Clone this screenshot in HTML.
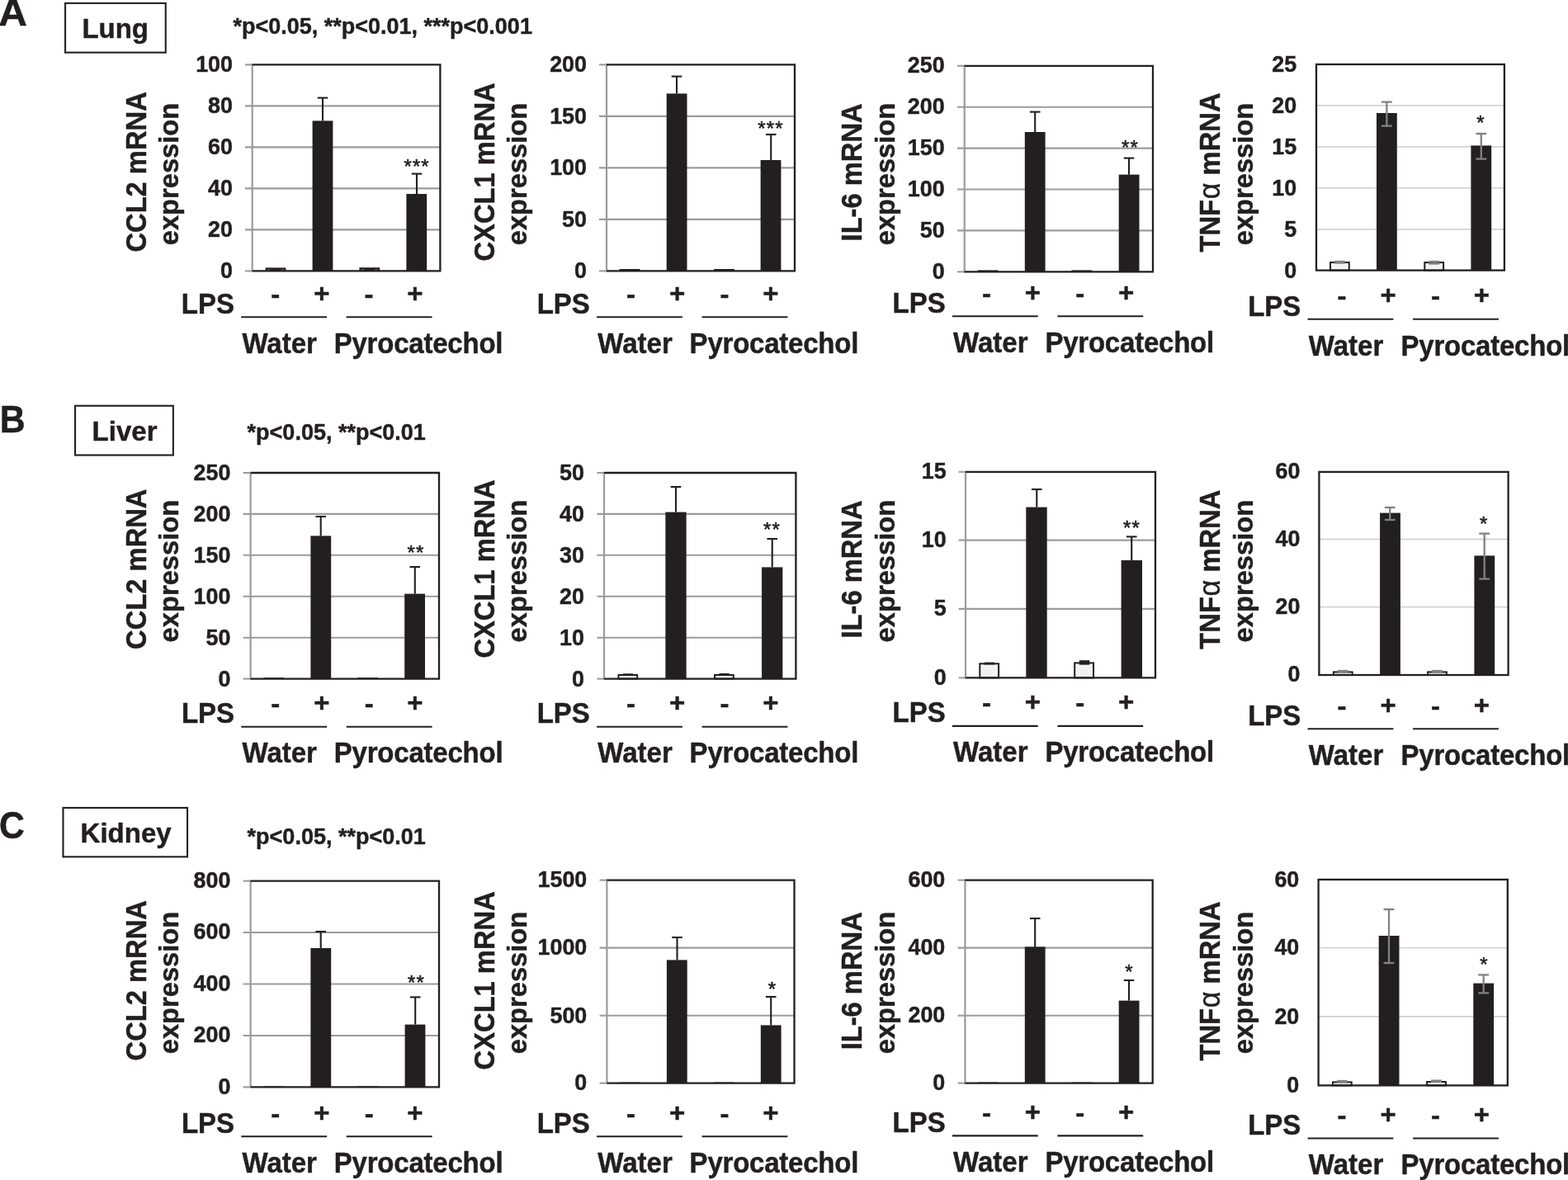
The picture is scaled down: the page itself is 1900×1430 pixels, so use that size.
<!DOCTYPE html>
<html lang="en">
<head>
<meta charset="utf-8">
<title>Pyrocatechol and LPS-induced cytokine mRNA expression in lung, liver and kidney</title>
<style>
html, body { margin: 0; padding: 0; background: #ffffff; }
body { width: 1900px; height: 1430px; overflow: hidden; }
svg { display: block; font-family: "Liberation Sans", sans-serif; fill: #231f20; }
</style>
</head>
<body>
<svg width="1900" height="1430" viewBox="0 0 1900 1430">
<rect x="0" y="0" width="1900" height="1430" fill="#ffffff"/>
<line x1="297.00" y1="128.40" x2="533.40" y2="128.40" stroke="#999b9e" stroke-width="2.1"/>
<line x1="297.00" y1="178.40" x2="533.40" y2="178.40" stroke="#999b9e" stroke-width="2.1"/>
<line x1="297.00" y1="228.40" x2="533.40" y2="228.40" stroke="#999b9e" stroke-width="2.1"/>
<line x1="297.00" y1="278.40" x2="533.40" y2="278.40" stroke="#999b9e" stroke-width="2.1"/>
<line x1="297.00" y1="78.40" x2="305.70" y2="78.40" stroke="#999b9e" stroke-width="2.1"/>
<line x1="297.00" y1="328.40" x2="305.70" y2="328.40" stroke="#999b9e" stroke-width="2.1"/>
<line x1="305.70" y1="77.35" x2="305.70" y2="329.45" stroke="#999b9e" stroke-width="2.2"/>
<rect x="321.60" y="324.40" width="24.80" height="4.00" fill="#231f20"/>
<rect x="323.80" y="326.40" width="3.80" height="1.40" fill="#6d6e71"/>
<rect x="340.40" y="326.40" width="3.80" height="1.40" fill="#6d6e71"/>
<rect x="378.60" y="146.40" width="24.80" height="182.00" fill="#231f20"/>
<rect x="435.40" y="324.20" width="24.80" height="4.20" fill="#231f20"/>
<rect x="437.60" y="326.20" width="3.80" height="1.40" fill="#6d6e71"/>
<rect x="454.20" y="326.20" width="3.80" height="1.40" fill="#6d6e71"/>
<rect x="492.40" y="235.00" width="24.80" height="93.40" fill="#231f20"/>
<line x1="391.00" y1="118.60" x2="391.00" y2="146.40" stroke="#231f20" stroke-width="2.1"/>
<line x1="384.70" y1="118.60" x2="397.30" y2="118.60" stroke="#231f20" stroke-width="2.1"/>
<line x1="505.00" y1="210.60" x2="505.00" y2="235.00" stroke="#231f20" stroke-width="2.1"/>
<line x1="498.70" y1="210.60" x2="511.30" y2="210.60" stroke="#231f20" stroke-width="2.1"/>
<polyline points="305.70,78.40 533.40,78.40 533.40,328.40 305.70,328.40" fill="none" stroke="#231f20" stroke-width="2.3"/>
<text transform="translate(282.00 87.40) scale(1.0 1.03)" font-size="26.9" font-weight="bold" text-anchor="end" stroke="#231f20" stroke-width="0.45" stroke-linejoin="round">100</text>
<text transform="translate(282.00 137.40) scale(1.0 1.03)" font-size="26.9" font-weight="bold" text-anchor="end" stroke="#231f20" stroke-width="0.45" stroke-linejoin="round">80</text>
<text transform="translate(282.00 187.40) scale(1.0 1.03)" font-size="26.9" font-weight="bold" text-anchor="end" stroke="#231f20" stroke-width="0.45" stroke-linejoin="round">60</text>
<text transform="translate(282.00 237.40) scale(1.0 1.03)" font-size="26.9" font-weight="bold" text-anchor="end" stroke="#231f20" stroke-width="0.45" stroke-linejoin="round">40</text>
<text transform="translate(282.00 287.40) scale(1.0 1.03)" font-size="26.9" font-weight="bold" text-anchor="end" stroke="#231f20" stroke-width="0.45" stroke-linejoin="round">20</text>
<text transform="translate(282.00 337.40) scale(1.0 1.03)" font-size="26.9" font-weight="bold" text-anchor="end" stroke="#231f20" stroke-width="0.45" stroke-linejoin="round">0</text>
<text transform="translate(505.15 209.50) scale(1.0 0.97)" font-size="24" font-weight="normal" text-anchor="middle" letter-spacing="1.1" stroke="#231f20" stroke-width="0.6">***</text>
<text transform="translate(177.00 208.40) rotate(-90) scale(1.0 1.06)" font-size="32.7" font-weight="bold" text-anchor="middle" stroke="#231f20" stroke-width="0.45" stroke-linejoin="round">CCL2 mRNA</text>
<text transform="translate(215.50 211.00) rotate(-90)" font-size="32.7" font-weight="bold" text-anchor="middle" stroke="#231f20" stroke-width="0.45" stroke-linejoin="round">expression</text>
<text transform="translate(219.80 379.60) scale(1.0 1.05)" font-size="33" font-weight="bold" text-anchor="start" stroke="#231f20" stroke-width="0.45" stroke-linejoin="round">LPS</text>
<text transform="translate(333.70 366.80) scale(1.0 0.97)" font-size="33" font-weight="bold" text-anchor="middle" stroke="#231f20" stroke-width="0.45" stroke-linejoin="round">-</text>
<text transform="translate(389.80 365.80) scale(1.0 0.97)" font-size="33" font-weight="bold" text-anchor="middle" stroke="#231f20" stroke-width="0.45" stroke-linejoin="round">+</text>
<text transform="translate(447.10 366.80) scale(1.0 0.97)" font-size="33" font-weight="bold" text-anchor="middle" stroke="#231f20" stroke-width="0.45" stroke-linejoin="round">-</text>
<text transform="translate(502.90 365.80) scale(1.0 0.97)" font-size="33" font-weight="bold" text-anchor="middle" stroke="#231f20" stroke-width="0.45" stroke-linejoin="round">+</text>
<line x1="292.20" y1="384.30" x2="396.00" y2="384.30" stroke="#231f20" stroke-width="2.1"/>
<line x1="419.70" y1="384.30" x2="523.50" y2="384.30" stroke="#231f20" stroke-width="2.1"/>
<text transform="translate(293.40 427.60) scale(1.0 1.05)" font-size="33" font-weight="bold" text-anchor="start" stroke="#231f20" stroke-width="0.45" stroke-linejoin="round">Water</text>
<text transform="translate(404.70 427.60) scale(1.0 1.05)" font-size="33" font-weight="bold" text-anchor="start" stroke="#231f20" stroke-width="0.45" stroke-linejoin="round" letter-spacing="-0.22">Pyrocatechol</text>
<line x1="726.00" y1="140.90" x2="963.00" y2="140.90" stroke="#999b9e" stroke-width="2.1"/>
<line x1="726.00" y1="203.40" x2="963.00" y2="203.40" stroke="#999b9e" stroke-width="2.1"/>
<line x1="726.00" y1="265.90" x2="963.00" y2="265.90" stroke="#999b9e" stroke-width="2.1"/>
<line x1="726.00" y1="78.40" x2="735.00" y2="78.40" stroke="#999b9e" stroke-width="2.1"/>
<line x1="726.00" y1="328.40" x2="735.00" y2="328.40" stroke="#999b9e" stroke-width="2.1"/>
<line x1="735.00" y1="77.35" x2="735.00" y2="329.45" stroke="#999b9e" stroke-width="2.2"/>
<rect x="750.60" y="326.00" width="24.80" height="2.40" fill="#231f20"/>
<rect x="807.70" y="113.40" width="24.80" height="215.00" fill="#231f20"/>
<rect x="865.10" y="326.00" width="24.80" height="2.40" fill="#231f20"/>
<rect x="921.60" y="194.00" width="24.80" height="134.40" fill="#231f20"/>
<line x1="820.00" y1="92.60" x2="820.00" y2="113.40" stroke="#231f20" stroke-width="2.1"/>
<line x1="813.70" y1="92.60" x2="826.30" y2="92.60" stroke="#231f20" stroke-width="2.1"/>
<line x1="934.20" y1="163.00" x2="934.20" y2="194.00" stroke="#231f20" stroke-width="2.1"/>
<line x1="927.90" y1="163.00" x2="940.50" y2="163.00" stroke="#231f20" stroke-width="2.1"/>
<polyline points="735.00,78.40 963.00,78.40 963.00,328.40 735.00,328.40" fill="none" stroke="#231f20" stroke-width="2.3"/>
<text transform="translate(711.00 87.40) scale(1.0 1.03)" font-size="26.9" font-weight="bold" text-anchor="end" stroke="#231f20" stroke-width="0.45" stroke-linejoin="round">200</text>
<text transform="translate(711.00 149.90) scale(1.0 1.03)" font-size="26.9" font-weight="bold" text-anchor="end" stroke="#231f20" stroke-width="0.45" stroke-linejoin="round">150</text>
<text transform="translate(711.00 212.40) scale(1.0 1.03)" font-size="26.9" font-weight="bold" text-anchor="end" stroke="#231f20" stroke-width="0.45" stroke-linejoin="round">100</text>
<text transform="translate(711.00 274.90) scale(1.0 1.03)" font-size="26.9" font-weight="bold" text-anchor="end" stroke="#231f20" stroke-width="0.45" stroke-linejoin="round">50</text>
<text transform="translate(711.00 337.40) scale(1.0 1.03)" font-size="26.9" font-weight="bold" text-anchor="end" stroke="#231f20" stroke-width="0.45" stroke-linejoin="round">0</text>
<text transform="translate(933.95 163.50) scale(1.0 0.97)" font-size="24" font-weight="normal" text-anchor="middle" letter-spacing="1.1" stroke="#231f20" stroke-width="0.6">***</text>
<text transform="translate(599.00 208.40) rotate(-90) scale(1.0 1.06)" font-size="32.7" font-weight="bold" text-anchor="middle" stroke="#231f20" stroke-width="0.45" stroke-linejoin="round">CXCL1 mRNA</text>
<text transform="translate(638.00 211.00) rotate(-90)" font-size="32.7" font-weight="bold" text-anchor="middle" stroke="#231f20" stroke-width="0.45" stroke-linejoin="round">expression</text>
<text transform="translate(650.70 379.50) scale(1.0 1.05)" font-size="33" font-weight="bold" text-anchor="start" stroke="#231f20" stroke-width="0.45" stroke-linejoin="round">LPS</text>
<text transform="translate(764.60 366.70) scale(1.0 0.97)" font-size="33" font-weight="bold" text-anchor="middle" stroke="#231f20" stroke-width="0.45" stroke-linejoin="round">-</text>
<text transform="translate(820.70 365.70) scale(1.0 0.97)" font-size="33" font-weight="bold" text-anchor="middle" stroke="#231f20" stroke-width="0.45" stroke-linejoin="round">+</text>
<text transform="translate(878.00 366.70) scale(1.0 0.97)" font-size="33" font-weight="bold" text-anchor="middle" stroke="#231f20" stroke-width="0.45" stroke-linejoin="round">-</text>
<text transform="translate(933.80 365.70) scale(1.0 0.97)" font-size="33" font-weight="bold" text-anchor="middle" stroke="#231f20" stroke-width="0.45" stroke-linejoin="round">+</text>
<line x1="723.10" y1="384.20" x2="826.90" y2="384.20" stroke="#231f20" stroke-width="2.1"/>
<line x1="850.60" y1="384.20" x2="954.40" y2="384.20" stroke="#231f20" stroke-width="2.1"/>
<text transform="translate(724.30 427.50) scale(1.0 1.05)" font-size="33" font-weight="bold" text-anchor="start" stroke="#231f20" stroke-width="0.45" stroke-linejoin="round">Water</text>
<text transform="translate(835.60 427.50) scale(1.0 1.05)" font-size="33" font-weight="bold" text-anchor="start" stroke="#231f20" stroke-width="0.45" stroke-linejoin="round" letter-spacing="-0.22">Pyrocatechol</text>
<line x1="1160.00" y1="129.70" x2="1397.00" y2="129.70" stroke="#999b9e" stroke-width="2.1"/>
<line x1="1160.00" y1="179.60" x2="1397.00" y2="179.60" stroke="#999b9e" stroke-width="2.1"/>
<line x1="1160.00" y1="229.50" x2="1397.00" y2="229.50" stroke="#999b9e" stroke-width="2.1"/>
<line x1="1160.00" y1="279.40" x2="1397.00" y2="279.40" stroke="#999b9e" stroke-width="2.1"/>
<line x1="1160.00" y1="79.80" x2="1168.70" y2="79.80" stroke="#999b9e" stroke-width="2.1"/>
<line x1="1160.00" y1="329.40" x2="1168.70" y2="329.40" stroke="#999b9e" stroke-width="2.1"/>
<line x1="1168.70" y1="78.75" x2="1168.70" y2="330.45" stroke="#999b9e" stroke-width="2.2"/>
<rect x="1184.60" y="327.40" width="24.80" height="2.00" fill="#231f20"/>
<rect x="1241.80" y="160.00" width="24.80" height="169.40" fill="#231f20"/>
<rect x="1298.40" y="327.40" width="24.80" height="2.00" fill="#231f20"/>
<rect x="1355.70" y="211.60" width="24.80" height="117.80" fill="#231f20"/>
<line x1="1254.20" y1="135.60" x2="1254.20" y2="160.00" stroke="#231f20" stroke-width="2.1"/>
<line x1="1247.90" y1="135.60" x2="1260.50" y2="135.60" stroke="#231f20" stroke-width="2.1"/>
<line x1="1368.00" y1="191.60" x2="1368.00" y2="211.60" stroke="#231f20" stroke-width="2.1"/>
<line x1="1361.70" y1="191.60" x2="1374.30" y2="191.60" stroke="#231f20" stroke-width="2.1"/>
<polyline points="1168.70,79.80 1397.00,79.80 1397.00,329.40 1168.70,329.40" fill="none" stroke="#231f20" stroke-width="2.3"/>
<text transform="translate(1144.60 88.00) scale(1.0 1.03)" font-size="26.9" font-weight="bold" text-anchor="end" stroke="#231f20" stroke-width="0.45" stroke-linejoin="round">250</text>
<text transform="translate(1144.60 137.90) scale(1.0 1.03)" font-size="26.9" font-weight="bold" text-anchor="end" stroke="#231f20" stroke-width="0.45" stroke-linejoin="round">200</text>
<text transform="translate(1144.60 187.80) scale(1.0 1.03)" font-size="26.9" font-weight="bold" text-anchor="end" stroke="#231f20" stroke-width="0.45" stroke-linejoin="round">150</text>
<text transform="translate(1144.60 237.70) scale(1.0 1.03)" font-size="26.9" font-weight="bold" text-anchor="end" stroke="#231f20" stroke-width="0.45" stroke-linejoin="round">100</text>
<text transform="translate(1144.60 287.60) scale(1.0 1.03)" font-size="26.9" font-weight="bold" text-anchor="end" stroke="#231f20" stroke-width="0.45" stroke-linejoin="round">50</text>
<text transform="translate(1144.60 337.60) scale(1.0 1.03)" font-size="26.9" font-weight="bold" text-anchor="end" stroke="#231f20" stroke-width="0.45" stroke-linejoin="round">0</text>
<text transform="translate(1369.55 186.50) scale(1.0 0.97)" font-size="24" font-weight="normal" text-anchor="middle" letter-spacing="1.1" stroke="#231f20" stroke-width="0.6">**</text>
<text transform="translate(1043.70 208.90) rotate(-90) scale(1.0 1.06)" font-size="32.7" font-weight="bold" text-anchor="middle" stroke="#231f20" stroke-width="0.45" stroke-linejoin="round">IL-6 mRNA</text>
<text transform="translate(1084.00 211.00) rotate(-90)" font-size="32.7" font-weight="bold" text-anchor="middle" stroke="#231f20" stroke-width="0.45" stroke-linejoin="round">expression</text>
<text transform="translate(1081.50 378.60) scale(1.0 1.05)" font-size="33" font-weight="bold" text-anchor="start" stroke="#231f20" stroke-width="0.45" stroke-linejoin="round">LPS</text>
<text transform="translate(1195.40 365.80) scale(1.0 0.97)" font-size="33" font-weight="bold" text-anchor="middle" stroke="#231f20" stroke-width="0.45" stroke-linejoin="round">-</text>
<text transform="translate(1251.50 364.80) scale(1.0 0.97)" font-size="33" font-weight="bold" text-anchor="middle" stroke="#231f20" stroke-width="0.45" stroke-linejoin="round">+</text>
<text transform="translate(1308.80 365.80) scale(1.0 0.97)" font-size="33" font-weight="bold" text-anchor="middle" stroke="#231f20" stroke-width="0.45" stroke-linejoin="round">-</text>
<text transform="translate(1364.60 364.80) scale(1.0 0.97)" font-size="33" font-weight="bold" text-anchor="middle" stroke="#231f20" stroke-width="0.45" stroke-linejoin="round">+</text>
<line x1="1153.90" y1="383.30" x2="1257.70" y2="383.30" stroke="#231f20" stroke-width="2.1"/>
<line x1="1281.40" y1="383.30" x2="1385.20" y2="383.30" stroke="#231f20" stroke-width="2.1"/>
<text transform="translate(1155.10 426.60) scale(1.0 1.05)" font-size="33" font-weight="bold" text-anchor="start" stroke="#231f20" stroke-width="0.45" stroke-linejoin="round">Water</text>
<text transform="translate(1266.40 426.60) scale(1.0 1.05)" font-size="33" font-weight="bold" text-anchor="start" stroke="#231f20" stroke-width="0.45" stroke-linejoin="round" letter-spacing="-0.22">Pyrocatechol</text>
<line x1="1595.00" y1="127.80" x2="1822.90" y2="127.80" stroke="#d4d5d6" stroke-width="1.8"/>
<line x1="1595.00" y1="177.80" x2="1822.90" y2="177.80" stroke="#d4d5d6" stroke-width="1.8"/>
<line x1="1595.00" y1="227.80" x2="1822.90" y2="227.80" stroke="#d4d5d6" stroke-width="1.8"/>
<line x1="1595.00" y1="277.80" x2="1822.90" y2="277.80" stroke="#d4d5d6" stroke-width="1.8"/>
<rect x="1612.00" y="318.00" width="22.80" height="9.60" fill="#f2f2f2" stroke="#231f20" stroke-width="2.0"/>
<rect x="1668.00" y="137.00" width="24.80" height="190.60" fill="#231f20"/>
<rect x="1726.30" y="318.10" width="22.80" height="9.50" fill="#f2f2f2" stroke="#231f20" stroke-width="2.0"/>
<rect x="1782.40" y="176.40" width="24.80" height="151.20" fill="#231f20"/>
<line x1="1680.40" y1="123.60" x2="1680.40" y2="152.60" stroke="#808285" stroke-width="2.3"/>
<line x1="1674.00" y1="123.60" x2="1686.80" y2="123.60" stroke="#808285" stroke-width="2.3"/>
<line x1="1674.00" y1="152.60" x2="1686.80" y2="152.60" stroke="#808285" stroke-width="2.3"/>
<line x1="1794.80" y1="162.00" x2="1794.80" y2="192.60" stroke="#808285" stroke-width="2.3"/>
<line x1="1788.40" y1="162.00" x2="1801.20" y2="162.00" stroke="#808285" stroke-width="2.3"/>
<line x1="1788.40" y1="192.60" x2="1801.20" y2="192.60" stroke="#808285" stroke-width="2.3"/>
<line x1="1623.20" y1="317.00" x2="1623.20" y2="318.60" stroke="#808285" stroke-width="2.3"/>
<line x1="1616.80" y1="317.00" x2="1629.60" y2="317.00" stroke="#808285" stroke-width="2.3"/>
<line x1="1616.80" y1="318.60" x2="1629.60" y2="318.60" stroke="#808285" stroke-width="2.3"/>
<line x1="1737.70" y1="317.00" x2="1737.70" y2="319.50" stroke="#808285" stroke-width="2.3"/>
<line x1="1731.30" y1="317.00" x2="1744.10" y2="317.00" stroke="#808285" stroke-width="2.3"/>
<line x1="1731.30" y1="319.50" x2="1744.10" y2="319.50" stroke="#808285" stroke-width="2.3"/>
<rect x="1595.00" y="78.00" width="227.90" height="249.60" fill="none" stroke="#231f20" stroke-width="2.3"/>
<text transform="translate(1571.20 87.00) scale(1.0 1.03)" font-size="26.9" font-weight="bold" text-anchor="end" stroke="#231f20" stroke-width="0.45" stroke-linejoin="round">25</text>
<text transform="translate(1571.20 136.80) scale(1.0 1.03)" font-size="26.9" font-weight="bold" text-anchor="end" stroke="#231f20" stroke-width="0.45" stroke-linejoin="round">20</text>
<text transform="translate(1571.20 186.80) scale(1.0 1.03)" font-size="26.9" font-weight="bold" text-anchor="end" stroke="#231f20" stroke-width="0.45" stroke-linejoin="round">15</text>
<text transform="translate(1571.20 236.80) scale(1.0 1.03)" font-size="26.9" font-weight="bold" text-anchor="end" stroke="#231f20" stroke-width="0.45" stroke-linejoin="round">10</text>
<text transform="translate(1571.20 286.80) scale(1.0 1.03)" font-size="26.9" font-weight="bold" text-anchor="end" stroke="#231f20" stroke-width="0.45" stroke-linejoin="round">5</text>
<text transform="translate(1571.20 336.60) scale(1.0 1.03)" font-size="26.9" font-weight="bold" text-anchor="end" stroke="#231f20" stroke-width="0.45" stroke-linejoin="round">0</text>
<text transform="translate(1794.55 157.10) scale(1.0 0.97)" font-size="24" font-weight="normal" text-anchor="middle" letter-spacing="1.1" stroke="#231f20" stroke-width="0.6">*</text>
<text transform="translate(1477.80 209.00) rotate(-90) scale(1.0 1.06)" font-size="32.7" font-weight="bold" text-anchor="middle" stroke="#231f20" stroke-width="0.45" stroke-linejoin="round">TNF<tspan font-weight="normal" stroke-width="0.4" font-size="1.05em" dx="0.6">α</tspan> mRNA</text>
<text transform="translate(1518.00 211.00) rotate(-90)" font-size="32.7" font-weight="bold" text-anchor="middle" stroke="#231f20" stroke-width="0.45" stroke-linejoin="round">expression</text>
<text transform="translate(1512.20 382.60) scale(1.0 1.05)" font-size="33" font-weight="bold" text-anchor="start" stroke="#231f20" stroke-width="0.45" stroke-linejoin="round">LPS</text>
<text transform="translate(1626.10 369.20) scale(1.0 0.97)" font-size="33" font-weight="bold" text-anchor="middle" stroke="#231f20" stroke-width="0.45" stroke-linejoin="round">-</text>
<text transform="translate(1682.20 368.20) scale(1.0 0.97)" font-size="33" font-weight="bold" text-anchor="middle" stroke="#231f20" stroke-width="0.45" stroke-linejoin="round">+</text>
<text transform="translate(1739.50 369.20) scale(1.0 0.97)" font-size="33" font-weight="bold" text-anchor="middle" stroke="#231f20" stroke-width="0.45" stroke-linejoin="round">-</text>
<text transform="translate(1795.30 368.20) scale(1.0 0.97)" font-size="33" font-weight="bold" text-anchor="middle" stroke="#231f20" stroke-width="0.45" stroke-linejoin="round">+</text>
<line x1="1584.60" y1="386.80" x2="1688.40" y2="386.80" stroke="#231f20" stroke-width="2.1"/>
<line x1="1712.10" y1="386.80" x2="1815.90" y2="386.80" stroke="#231f20" stroke-width="2.1"/>
<text transform="translate(1585.80 430.60) scale(1.0 1.05)" font-size="33" font-weight="bold" text-anchor="start" stroke="#231f20" stroke-width="0.45" stroke-linejoin="round">Water</text>
<text transform="translate(1697.50 430.60) scale(1.0 1.05)" font-size="33" font-weight="bold" text-anchor="start" stroke="#231f20" stroke-width="0.45" stroke-linejoin="round" letter-spacing="-0.22">Pyrocatechol</text>
<line x1="294.60" y1="622.90" x2="532.00" y2="622.90" stroke="#999b9e" stroke-width="2.1"/>
<line x1="294.60" y1="672.80" x2="532.00" y2="672.80" stroke="#999b9e" stroke-width="2.1"/>
<line x1="294.60" y1="722.80" x2="532.00" y2="722.80" stroke="#999b9e" stroke-width="2.1"/>
<line x1="294.60" y1="772.70" x2="532.00" y2="772.70" stroke="#999b9e" stroke-width="2.1"/>
<line x1="294.60" y1="573.00" x2="303.60" y2="573.00" stroke="#999b9e" stroke-width="2.1"/>
<line x1="294.60" y1="822.60" x2="303.60" y2="822.60" stroke="#999b9e" stroke-width="2.1"/>
<line x1="303.60" y1="571.95" x2="303.60" y2="823.65" stroke="#999b9e" stroke-width="2.2"/>
<rect x="319.40" y="821.20" width="24.80" height="1.40" fill="#231f20"/>
<rect x="376.40" y="649.40" width="24.80" height="173.20" fill="#231f20"/>
<rect x="433.30" y="821.20" width="24.80" height="1.40" fill="#231f20"/>
<rect x="490.20" y="719.60" width="24.80" height="103.00" fill="#231f20"/>
<line x1="388.70" y1="626.00" x2="388.70" y2="649.40" stroke="#231f20" stroke-width="2.1"/>
<line x1="382.40" y1="626.00" x2="395.00" y2="626.00" stroke="#231f20" stroke-width="2.1"/>
<line x1="502.80" y1="687.00" x2="502.80" y2="719.60" stroke="#231f20" stroke-width="2.1"/>
<line x1="496.50" y1="687.00" x2="509.10" y2="687.00" stroke="#231f20" stroke-width="2.1"/>
<polyline points="303.60,573.00 532.00,573.00 532.00,822.60 303.60,822.60" fill="none" stroke="#231f20" stroke-width="2.3"/>
<text transform="translate(279.40 582.00) scale(1.0 1.03)" font-size="26.9" font-weight="bold" text-anchor="end" stroke="#231f20" stroke-width="0.45" stroke-linejoin="round">250</text>
<text transform="translate(279.40 631.90) scale(1.0 1.03)" font-size="26.9" font-weight="bold" text-anchor="end" stroke="#231f20" stroke-width="0.45" stroke-linejoin="round">200</text>
<text transform="translate(279.40 681.80) scale(1.0 1.03)" font-size="26.9" font-weight="bold" text-anchor="end" stroke="#231f20" stroke-width="0.45" stroke-linejoin="round">150</text>
<text transform="translate(279.40 731.80) scale(1.0 1.03)" font-size="26.9" font-weight="bold" text-anchor="end" stroke="#231f20" stroke-width="0.45" stroke-linejoin="round">100</text>
<text transform="translate(279.40 781.70) scale(1.0 1.03)" font-size="26.9" font-weight="bold" text-anchor="end" stroke="#231f20" stroke-width="0.45" stroke-linejoin="round">50</text>
<text transform="translate(279.40 831.60) scale(1.0 1.03)" font-size="26.9" font-weight="bold" text-anchor="end" stroke="#231f20" stroke-width="0.45" stroke-linejoin="round">0</text>
<text transform="translate(503.95 677.90) scale(1.0 0.97)" font-size="24" font-weight="normal" text-anchor="middle" letter-spacing="1.1" stroke="#231f20" stroke-width="0.6">**</text>
<text transform="translate(176.90 689.70) rotate(-90) scale(1.0 1.06)" font-size="32.7" font-weight="bold" text-anchor="middle" stroke="#231f20" stroke-width="0.45" stroke-linejoin="round">CCL2 mRNA</text>
<text transform="translate(216.40 692.10) rotate(-90)" font-size="32.7" font-weight="bold" text-anchor="middle" stroke="#231f20" stroke-width="0.45" stroke-linejoin="round">expression</text>
<text transform="translate(219.90 876.10) scale(1.0 1.05)" font-size="33" font-weight="bold" text-anchor="start" stroke="#231f20" stroke-width="0.45" stroke-linejoin="round">LPS</text>
<text transform="translate(333.80 863.30) scale(1.0 0.97)" font-size="33" font-weight="bold" text-anchor="middle" stroke="#231f20" stroke-width="0.45" stroke-linejoin="round">-</text>
<text transform="translate(389.90 862.30) scale(1.0 0.97)" font-size="33" font-weight="bold" text-anchor="middle" stroke="#231f20" stroke-width="0.45" stroke-linejoin="round">+</text>
<text transform="translate(447.20 863.30) scale(1.0 0.97)" font-size="33" font-weight="bold" text-anchor="middle" stroke="#231f20" stroke-width="0.45" stroke-linejoin="round">-</text>
<text transform="translate(503.00 862.30) scale(1.0 0.97)" font-size="33" font-weight="bold" text-anchor="middle" stroke="#231f20" stroke-width="0.45" stroke-linejoin="round">+</text>
<line x1="292.30" y1="880.80" x2="396.10" y2="880.80" stroke="#231f20" stroke-width="2.1"/>
<line x1="419.80" y1="880.80" x2="523.60" y2="880.80" stroke="#231f20" stroke-width="2.1"/>
<text transform="translate(293.50 924.10) scale(1.0 1.05)" font-size="33" font-weight="bold" text-anchor="start" stroke="#231f20" stroke-width="0.45" stroke-linejoin="round">Water</text>
<text transform="translate(404.80 924.10) scale(1.0 1.05)" font-size="33" font-weight="bold" text-anchor="start" stroke="#231f20" stroke-width="0.45" stroke-linejoin="round" letter-spacing="-0.22">Pyrocatechol</text>
<line x1="723.40" y1="622.90" x2="964.40" y2="622.90" stroke="#999b9e" stroke-width="2.1"/>
<line x1="723.40" y1="672.80" x2="964.40" y2="672.80" stroke="#999b9e" stroke-width="2.1"/>
<line x1="723.40" y1="722.80" x2="964.40" y2="722.80" stroke="#999b9e" stroke-width="2.1"/>
<line x1="723.40" y1="772.70" x2="964.40" y2="772.70" stroke="#999b9e" stroke-width="2.1"/>
<line x1="723.40" y1="573.00" x2="732.00" y2="573.00" stroke="#999b9e" stroke-width="2.1"/>
<line x1="723.40" y1="822.60" x2="732.00" y2="822.60" stroke="#999b9e" stroke-width="2.1"/>
<line x1="732.00" y1="571.95" x2="732.00" y2="823.65" stroke="#999b9e" stroke-width="2.2"/>
<rect x="749.45" y="818.00" width="22.70" height="4.60" fill="#f2f2f2" stroke="#231f20" stroke-width="2.0"/>
<rect x="806.35" y="620.60" width="25.30" height="202.00" fill="#231f20"/>
<rect x="866.05" y="818.00" width="22.70" height="4.60" fill="#f2f2f2" stroke="#231f20" stroke-width="2.0"/>
<rect x="923.05" y="687.40" width="25.30" height="135.20" fill="#231f20"/>
<line x1="819.00" y1="590.00" x2="819.00" y2="620.60" stroke="#231f20" stroke-width="2.1"/>
<line x1="812.70" y1="590.00" x2="825.30" y2="590.00" stroke="#231f20" stroke-width="2.1"/>
<line x1="935.70" y1="653.00" x2="935.70" y2="687.40" stroke="#231f20" stroke-width="2.1"/>
<line x1="929.40" y1="653.00" x2="942.00" y2="653.00" stroke="#231f20" stroke-width="2.1"/>
<rect x="754.80" y="816.30" width="12.40" height="1.90" fill="#231f20"/>
<rect x="871.40" y="816.00" width="12.40" height="3.00" fill="#231f20"/>
<polyline points="732.00,573.00 964.40,573.00 964.40,822.60 732.00,822.60" fill="none" stroke="#231f20" stroke-width="2.3"/>
<text transform="translate(708.00 582.00) scale(1.0 1.03)" font-size="26.9" font-weight="bold" text-anchor="end" stroke="#231f20" stroke-width="0.45" stroke-linejoin="round">50</text>
<text transform="translate(708.00 631.90) scale(1.0 1.03)" font-size="26.9" font-weight="bold" text-anchor="end" stroke="#231f20" stroke-width="0.45" stroke-linejoin="round">40</text>
<text transform="translate(708.00 681.80) scale(1.0 1.03)" font-size="26.9" font-weight="bold" text-anchor="end" stroke="#231f20" stroke-width="0.45" stroke-linejoin="round">30</text>
<text transform="translate(708.00 731.80) scale(1.0 1.03)" font-size="26.9" font-weight="bold" text-anchor="end" stroke="#231f20" stroke-width="0.45" stroke-linejoin="round">20</text>
<text transform="translate(708.00 781.70) scale(1.0 1.03)" font-size="26.9" font-weight="bold" text-anchor="end" stroke="#231f20" stroke-width="0.45" stroke-linejoin="round">10</text>
<text transform="translate(708.00 831.60) scale(1.0 1.03)" font-size="26.9" font-weight="bold" text-anchor="end" stroke="#231f20" stroke-width="0.45" stroke-linejoin="round">0</text>
<text transform="translate(935.55 649.50) scale(1.0 0.97)" font-size="24" font-weight="normal" text-anchor="middle" letter-spacing="1.1" stroke="#231f20" stroke-width="0.6">**</text>
<text transform="translate(598.70 689.50) rotate(-90) scale(1.0 1.06)" font-size="32.7" font-weight="bold" text-anchor="middle" stroke="#231f20" stroke-width="0.45" stroke-linejoin="round">CXCL1 mRNA</text>
<text transform="translate(638.20 692.10) rotate(-90)" font-size="32.7" font-weight="bold" text-anchor="middle" stroke="#231f20" stroke-width="0.45" stroke-linejoin="round">expression</text>
<text transform="translate(650.70 876.10) scale(1.0 1.05)" font-size="33" font-weight="bold" text-anchor="start" stroke="#231f20" stroke-width="0.45" stroke-linejoin="round">LPS</text>
<text transform="translate(764.60 863.30) scale(1.0 0.97)" font-size="33" font-weight="bold" text-anchor="middle" stroke="#231f20" stroke-width="0.45" stroke-linejoin="round">-</text>
<text transform="translate(820.70 862.30) scale(1.0 0.97)" font-size="33" font-weight="bold" text-anchor="middle" stroke="#231f20" stroke-width="0.45" stroke-linejoin="round">+</text>
<text transform="translate(878.00 863.30) scale(1.0 0.97)" font-size="33" font-weight="bold" text-anchor="middle" stroke="#231f20" stroke-width="0.45" stroke-linejoin="round">-</text>
<text transform="translate(933.80 862.30) scale(1.0 0.97)" font-size="33" font-weight="bold" text-anchor="middle" stroke="#231f20" stroke-width="0.45" stroke-linejoin="round">+</text>
<line x1="723.10" y1="880.80" x2="826.90" y2="880.80" stroke="#231f20" stroke-width="2.1"/>
<line x1="850.60" y1="880.80" x2="954.40" y2="880.80" stroke="#231f20" stroke-width="2.1"/>
<text transform="translate(724.30 924.10) scale(1.0 1.05)" font-size="33" font-weight="bold" text-anchor="start" stroke="#231f20" stroke-width="0.45" stroke-linejoin="round">Water</text>
<text transform="translate(835.60 924.10) scale(1.0 1.05)" font-size="33" font-weight="bold" text-anchor="start" stroke="#231f20" stroke-width="0.45" stroke-linejoin="round" letter-spacing="-0.22">Pyrocatechol</text>
<line x1="1161.60" y1="654.60" x2="1400.00" y2="654.60" stroke="#999b9e" stroke-width="2.1"/>
<line x1="1161.60" y1="737.90" x2="1400.00" y2="737.90" stroke="#999b9e" stroke-width="2.1"/>
<line x1="1161.60" y1="571.80" x2="1170.00" y2="571.80" stroke="#999b9e" stroke-width="2.1"/>
<line x1="1161.60" y1="821.40" x2="1170.00" y2="821.40" stroke="#999b9e" stroke-width="2.1"/>
<line x1="1170.00" y1="570.75" x2="1170.00" y2="822.45" stroke="#999b9e" stroke-width="2.2"/>
<rect x="1187.30" y="804.30" width="22.80" height="17.10" fill="#f2f2f2" stroke="#231f20" stroke-width="2.0"/>
<rect x="1243.30" y="614.60" width="25.40" height="206.80" fill="#231f20"/>
<rect x="1302.20" y="803.40" width="22.80" height="18.00" fill="#f2f2f2" stroke="#231f20" stroke-width="2.0"/>
<rect x="1358.60" y="679.00" width="25.40" height="142.40" fill="#231f20"/>
<line x1="1256.30" y1="593.00" x2="1256.30" y2="614.60" stroke="#231f20" stroke-width="2.1"/>
<line x1="1250.00" y1="593.00" x2="1262.60" y2="593.00" stroke="#231f20" stroke-width="2.1"/>
<line x1="1371.20" y1="650.40" x2="1371.20" y2="679.00" stroke="#231f20" stroke-width="2.1"/>
<line x1="1364.90" y1="650.40" x2="1377.50" y2="650.40" stroke="#231f20" stroke-width="2.1"/>
<rect x="1192.80" y="802.60" width="12.40" height="2.90" fill="#231f20"/>
<rect x="1307.80" y="800.20" width="12.40" height="5.40" fill="#231f20"/>
<polyline points="1170.00,571.80 1400.00,571.80 1400.00,821.40 1170.00,821.40" fill="none" stroke="#231f20" stroke-width="2.3"/>
<text transform="translate(1146.70 580.00) scale(1.0 1.03)" font-size="26.9" font-weight="bold" text-anchor="end" stroke="#231f20" stroke-width="0.45" stroke-linejoin="round">15</text>
<text transform="translate(1146.70 662.80) scale(1.0 1.03)" font-size="26.9" font-weight="bold" text-anchor="end" stroke="#231f20" stroke-width="0.45" stroke-linejoin="round">10</text>
<text transform="translate(1146.70 746.10) scale(1.0 1.03)" font-size="26.9" font-weight="bold" text-anchor="end" stroke="#231f20" stroke-width="0.45" stroke-linejoin="round">5</text>
<text transform="translate(1146.70 829.60) scale(1.0 1.03)" font-size="26.9" font-weight="bold" text-anchor="end" stroke="#231f20" stroke-width="0.45" stroke-linejoin="round">0</text>
<text transform="translate(1371.55 647.50) scale(1.0 0.97)" font-size="24" font-weight="normal" text-anchor="middle" letter-spacing="1.1" stroke="#231f20" stroke-width="0.6">**</text>
<text transform="translate(1044.00 690.00) rotate(-90) scale(1.0 1.06)" font-size="32.7" font-weight="bold" text-anchor="middle" stroke="#231f20" stroke-width="0.45" stroke-linejoin="round">IL-6 mRNA</text>
<text transform="translate(1084.00 692.10) rotate(-90)" font-size="32.7" font-weight="bold" text-anchor="middle" stroke="#231f20" stroke-width="0.45" stroke-linejoin="round">expression</text>
<text transform="translate(1081.50 875.20) scale(1.0 1.05)" font-size="33" font-weight="bold" text-anchor="start" stroke="#231f20" stroke-width="0.45" stroke-linejoin="round">LPS</text>
<text transform="translate(1195.40 862.40) scale(1.0 0.97)" font-size="33" font-weight="bold" text-anchor="middle" stroke="#231f20" stroke-width="0.45" stroke-linejoin="round">-</text>
<text transform="translate(1251.50 861.40) scale(1.0 0.97)" font-size="33" font-weight="bold" text-anchor="middle" stroke="#231f20" stroke-width="0.45" stroke-linejoin="round">+</text>
<text transform="translate(1308.80 862.40) scale(1.0 0.97)" font-size="33" font-weight="bold" text-anchor="middle" stroke="#231f20" stroke-width="0.45" stroke-linejoin="round">-</text>
<text transform="translate(1364.60 861.40) scale(1.0 0.97)" font-size="33" font-weight="bold" text-anchor="middle" stroke="#231f20" stroke-width="0.45" stroke-linejoin="round">+</text>
<line x1="1153.90" y1="879.90" x2="1257.70" y2="879.90" stroke="#231f20" stroke-width="2.1"/>
<line x1="1281.40" y1="879.90" x2="1385.20" y2="879.90" stroke="#231f20" stroke-width="2.1"/>
<text transform="translate(1155.10 923.20) scale(1.0 1.05)" font-size="33" font-weight="bold" text-anchor="start" stroke="#231f20" stroke-width="0.45" stroke-linejoin="round">Water</text>
<text transform="translate(1266.40 923.20) scale(1.0 1.05)" font-size="33" font-weight="bold" text-anchor="start" stroke="#231f20" stroke-width="0.45" stroke-linejoin="round" letter-spacing="-0.22">Pyrocatechol</text>
<line x1="1598.40" y1="653.50" x2="1827.60" y2="653.50" stroke="#d4d5d6" stroke-width="1.8"/>
<line x1="1598.40" y1="735.70" x2="1827.60" y2="735.70" stroke="#d4d5d6" stroke-width="1.8"/>
<rect x="1615.90" y="814.40" width="22.80" height="3.60" fill="#f2f2f2" stroke="#231f20" stroke-width="2.0"/>
<rect x="1672.10" y="621.60" width="24.80" height="196.40" fill="#231f20"/>
<rect x="1730.10" y="814.40" width="22.80" height="3.60" fill="#f2f2f2" stroke="#231f20" stroke-width="2.0"/>
<rect x="1786.40" y="673.40" width="24.80" height="144.60" fill="#231f20"/>
<line x1="1684.20" y1="615.00" x2="1684.20" y2="630.00" stroke="#808285" stroke-width="2.3"/>
<line x1="1677.80" y1="615.00" x2="1690.60" y2="615.00" stroke="#808285" stroke-width="2.3"/>
<line x1="1677.80" y1="630.00" x2="1690.60" y2="630.00" stroke="#808285" stroke-width="2.3"/>
<line x1="1798.70" y1="646.60" x2="1798.70" y2="701.60" stroke="#808285" stroke-width="2.3"/>
<line x1="1792.30" y1="646.60" x2="1805.10" y2="646.60" stroke="#808285" stroke-width="2.3"/>
<line x1="1792.30" y1="701.60" x2="1805.10" y2="701.60" stroke="#808285" stroke-width="2.3"/>
<line x1="1627.30" y1="813.00" x2="1627.30" y2="814.20" stroke="#808285" stroke-width="2.3"/>
<line x1="1620.90" y1="813.00" x2="1633.70" y2="813.00" stroke="#808285" stroke-width="2.3"/>
<line x1="1620.90" y1="814.20" x2="1633.70" y2="814.20" stroke="#808285" stroke-width="2.3"/>
<line x1="1741.50" y1="813.00" x2="1741.50" y2="814.20" stroke="#808285" stroke-width="2.3"/>
<line x1="1735.10" y1="813.00" x2="1747.90" y2="813.00" stroke="#808285" stroke-width="2.3"/>
<line x1="1735.10" y1="814.20" x2="1747.90" y2="814.20" stroke="#808285" stroke-width="2.3"/>
<rect x="1598.40" y="571.90" width="229.20" height="246.10" fill="none" stroke="#231f20" stroke-width="2.3"/>
<text transform="translate(1575.50 580.10) scale(1.0 1.03)" font-size="26.9" font-weight="bold" text-anchor="end" stroke="#231f20" stroke-width="0.45" stroke-linejoin="round">60</text>
<text transform="translate(1575.50 661.70) scale(1.0 1.03)" font-size="26.9" font-weight="bold" text-anchor="end" stroke="#231f20" stroke-width="0.45" stroke-linejoin="round">40</text>
<text transform="translate(1575.50 743.90) scale(1.0 1.03)" font-size="26.9" font-weight="bold" text-anchor="end" stroke="#231f20" stroke-width="0.45" stroke-linejoin="round">20</text>
<text transform="translate(1575.50 826.20) scale(1.0 1.03)" font-size="26.9" font-weight="bold" text-anchor="end" stroke="#231f20" stroke-width="0.45" stroke-linejoin="round">0</text>
<text transform="translate(1798.15 643.10) scale(1.0 0.97)" font-size="24" font-weight="normal" text-anchor="middle" letter-spacing="1.1" stroke="#231f20" stroke-width="0.6">*</text>
<text transform="translate(1478.20 690.20) rotate(-90) scale(1.0 1.06)" font-size="32.7" font-weight="bold" text-anchor="middle" stroke="#231f20" stroke-width="0.45" stroke-linejoin="round">TNF<tspan font-weight="normal" stroke-width="0.4" font-size="1.05em" dx="0.6">α</tspan> mRNA</text>
<text transform="translate(1518.20 692.10) rotate(-90)" font-size="32.7" font-weight="bold" text-anchor="middle" stroke="#231f20" stroke-width="0.45" stroke-linejoin="round">expression</text>
<text transform="translate(1512.20 879.10) scale(1.0 1.05)" font-size="33" font-weight="bold" text-anchor="start" stroke="#231f20" stroke-width="0.45" stroke-linejoin="round">LPS</text>
<text transform="translate(1626.10 865.70) scale(1.0 0.97)" font-size="33" font-weight="bold" text-anchor="middle" stroke="#231f20" stroke-width="0.45" stroke-linejoin="round">-</text>
<text transform="translate(1682.20 864.70) scale(1.0 0.97)" font-size="33" font-weight="bold" text-anchor="middle" stroke="#231f20" stroke-width="0.45" stroke-linejoin="round">+</text>
<text transform="translate(1739.50 865.70) scale(1.0 0.97)" font-size="33" font-weight="bold" text-anchor="middle" stroke="#231f20" stroke-width="0.45" stroke-linejoin="round">-</text>
<text transform="translate(1795.30 864.70) scale(1.0 0.97)" font-size="33" font-weight="bold" text-anchor="middle" stroke="#231f20" stroke-width="0.45" stroke-linejoin="round">+</text>
<line x1="1584.60" y1="883.30" x2="1688.40" y2="883.30" stroke="#231f20" stroke-width="2.1"/>
<line x1="1712.10" y1="883.30" x2="1815.90" y2="883.30" stroke="#231f20" stroke-width="2.1"/>
<text transform="translate(1585.80 927.10) scale(1.0 1.05)" font-size="33" font-weight="bold" text-anchor="start" stroke="#231f20" stroke-width="0.45" stroke-linejoin="round">Water</text>
<text transform="translate(1697.50 927.10) scale(1.0 1.05)" font-size="33" font-weight="bold" text-anchor="start" stroke="#231f20" stroke-width="0.45" stroke-linejoin="round" letter-spacing="-0.22">Pyrocatechol</text>
<line x1="294.60" y1="1130.00" x2="532.00" y2="1130.00" stroke="#999b9e" stroke-width="2.1"/>
<line x1="294.60" y1="1192.50" x2="532.00" y2="1192.50" stroke="#999b9e" stroke-width="2.1"/>
<line x1="294.60" y1="1255.00" x2="532.00" y2="1255.00" stroke="#999b9e" stroke-width="2.1"/>
<line x1="294.60" y1="1067.60" x2="303.60" y2="1067.60" stroke="#999b9e" stroke-width="2.1"/>
<line x1="294.60" y1="1317.40" x2="303.60" y2="1317.40" stroke="#999b9e" stroke-width="2.1"/>
<line x1="303.60" y1="1066.55" x2="303.60" y2="1318.45" stroke="#999b9e" stroke-width="2.2"/>
<rect x="319.60" y="1316.40" width="24.80" height="1.00" fill="#231f20"/>
<rect x="376.40" y="1149.00" width="24.80" height="168.40" fill="#231f20"/>
<rect x="433.60" y="1316.40" width="24.80" height="1.00" fill="#231f20"/>
<rect x="490.60" y="1241.60" width="24.80" height="75.80" fill="#231f20"/>
<line x1="388.70" y1="1129.00" x2="388.70" y2="1149.00" stroke="#231f20" stroke-width="2.1"/>
<line x1="382.40" y1="1129.00" x2="395.00" y2="1129.00" stroke="#231f20" stroke-width="2.1"/>
<line x1="503.20" y1="1208.40" x2="503.20" y2="1241.60" stroke="#231f20" stroke-width="2.1"/>
<line x1="496.90" y1="1208.40" x2="509.50" y2="1208.40" stroke="#231f20" stroke-width="2.1"/>
<polyline points="303.60,1067.60 532.00,1067.60 532.00,1317.40 303.60,1317.40" fill="none" stroke="#231f20" stroke-width="2.3"/>
<text transform="translate(279.40 1075.80) scale(1.0 1.03)" font-size="26.9" font-weight="bold" text-anchor="end" stroke="#231f20" stroke-width="0.45" stroke-linejoin="round">800</text>
<text transform="translate(279.40 1138.20) scale(1.0 1.03)" font-size="26.9" font-weight="bold" text-anchor="end" stroke="#231f20" stroke-width="0.45" stroke-linejoin="round">600</text>
<text transform="translate(279.40 1200.70) scale(1.0 1.03)" font-size="26.9" font-weight="bold" text-anchor="end" stroke="#231f20" stroke-width="0.45" stroke-linejoin="round">400</text>
<text transform="translate(279.40 1263.20) scale(1.0 1.03)" font-size="26.9" font-weight="bold" text-anchor="end" stroke="#231f20" stroke-width="0.45" stroke-linejoin="round">200</text>
<text transform="translate(279.40 1325.60) scale(1.0 1.03)" font-size="26.9" font-weight="bold" text-anchor="end" stroke="#231f20" stroke-width="0.45" stroke-linejoin="round">0</text>
<text transform="translate(504.55 1198.50) scale(1.0 0.97)" font-size="24" font-weight="normal" text-anchor="middle" letter-spacing="1.1" stroke="#231f20" stroke-width="0.6">**</text>
<text transform="translate(176.90 1188.30) rotate(-90) scale(1.0 1.06)" font-size="32.7" font-weight="bold" text-anchor="middle" stroke="#231f20" stroke-width="0.45" stroke-linejoin="round">CCL2 mRNA</text>
<text transform="translate(216.40 1191.00) rotate(-90)" font-size="32.7" font-weight="bold" text-anchor="middle" stroke="#231f20" stroke-width="0.45" stroke-linejoin="round">expression</text>
<text transform="translate(219.90 1372.50) scale(1.0 1.05)" font-size="33" font-weight="bold" text-anchor="start" stroke="#231f20" stroke-width="0.45" stroke-linejoin="round">LPS</text>
<text transform="translate(333.80 1359.70) scale(1.0 0.97)" font-size="33" font-weight="bold" text-anchor="middle" stroke="#231f20" stroke-width="0.45" stroke-linejoin="round">-</text>
<text transform="translate(389.90 1358.70) scale(1.0 0.97)" font-size="33" font-weight="bold" text-anchor="middle" stroke="#231f20" stroke-width="0.45" stroke-linejoin="round">+</text>
<text transform="translate(447.20 1359.70) scale(1.0 0.97)" font-size="33" font-weight="bold" text-anchor="middle" stroke="#231f20" stroke-width="0.45" stroke-linejoin="round">-</text>
<text transform="translate(503.00 1358.70) scale(1.0 0.97)" font-size="33" font-weight="bold" text-anchor="middle" stroke="#231f20" stroke-width="0.45" stroke-linejoin="round">+</text>
<line x1="292.30" y1="1377.20" x2="396.10" y2="1377.20" stroke="#231f20" stroke-width="2.1"/>
<line x1="419.80" y1="1377.20" x2="523.60" y2="1377.20" stroke="#231f20" stroke-width="2.1"/>
<text transform="translate(293.50 1420.50) scale(1.0 1.05)" font-size="33" font-weight="bold" text-anchor="start" stroke="#231f20" stroke-width="0.45" stroke-linejoin="round">Water</text>
<text transform="translate(404.80 1420.50) scale(1.0 1.05)" font-size="33" font-weight="bold" text-anchor="start" stroke="#231f20" stroke-width="0.45" stroke-linejoin="round" letter-spacing="-0.22">Pyrocatechol</text>
<line x1="726.60" y1="1148.60" x2="962.50" y2="1148.60" stroke="#999b9e" stroke-width="2.1"/>
<line x1="726.60" y1="1230.70" x2="962.50" y2="1230.70" stroke="#999b9e" stroke-width="2.1"/>
<line x1="726.60" y1="1066.60" x2="735.40" y2="1066.60" stroke="#999b9e" stroke-width="2.1"/>
<line x1="726.60" y1="1312.60" x2="735.40" y2="1312.60" stroke="#999b9e" stroke-width="2.1"/>
<line x1="735.40" y1="1065.55" x2="735.40" y2="1313.65" stroke="#999b9e" stroke-width="2.2"/>
<rect x="750.90" y="1311.60" width="24.80" height="1.00" fill="#231f20"/>
<rect x="807.90" y="1163.40" width="24.80" height="149.20" fill="#231f20"/>
<rect x="865.00" y="1311.60" width="24.80" height="1.00" fill="#231f20"/>
<rect x="921.80" y="1242.40" width="24.80" height="70.20" fill="#231f20"/>
<line x1="820.50" y1="1136.00" x2="820.50" y2="1163.40" stroke="#231f20" stroke-width="2.1"/>
<line x1="814.20" y1="1136.00" x2="826.80" y2="1136.00" stroke="#231f20" stroke-width="2.1"/>
<line x1="934.20" y1="1208.00" x2="934.20" y2="1242.40" stroke="#231f20" stroke-width="2.1"/>
<line x1="927.90" y1="1208.00" x2="940.50" y2="1208.00" stroke="#231f20" stroke-width="2.1"/>
<polyline points="735.40,1066.60 962.50,1066.60 962.50,1312.60 735.40,1312.60" fill="none" stroke="#231f20" stroke-width="2.3"/>
<text transform="translate(711.30 1075.40) scale(1.0 1.03)" font-size="26.9" font-weight="bold" text-anchor="end" stroke="#231f20" stroke-width="0.45" stroke-linejoin="round">1500</text>
<text transform="translate(711.30 1157.40) scale(1.0 1.03)" font-size="26.9" font-weight="bold" text-anchor="end" stroke="#231f20" stroke-width="0.45" stroke-linejoin="round">1000</text>
<text transform="translate(711.30 1239.50) scale(1.0 1.03)" font-size="26.9" font-weight="bold" text-anchor="end" stroke="#231f20" stroke-width="0.45" stroke-linejoin="round">500</text>
<text transform="translate(711.30 1321.40) scale(1.0 1.03)" font-size="26.9" font-weight="bold" text-anchor="end" stroke="#231f20" stroke-width="0.45" stroke-linejoin="round">0</text>
<text transform="translate(935.95 1206.50) scale(1.0 0.97)" font-size="24" font-weight="normal" text-anchor="middle" letter-spacing="1.1" stroke="#231f20" stroke-width="0.6">*</text>
<text transform="translate(598.70 1188.30) rotate(-90) scale(1.0 1.06)" font-size="32.7" font-weight="bold" text-anchor="middle" stroke="#231f20" stroke-width="0.45" stroke-linejoin="round">CXCL1 mRNA</text>
<text transform="translate(638.20 1191.00) rotate(-90)" font-size="32.7" font-weight="bold" text-anchor="middle" stroke="#231f20" stroke-width="0.45" stroke-linejoin="round">expression</text>
<text transform="translate(650.70 1372.50) scale(1.0 1.05)" font-size="33" font-weight="bold" text-anchor="start" stroke="#231f20" stroke-width="0.45" stroke-linejoin="round">LPS</text>
<text transform="translate(764.60 1359.70) scale(1.0 0.97)" font-size="33" font-weight="bold" text-anchor="middle" stroke="#231f20" stroke-width="0.45" stroke-linejoin="round">-</text>
<text transform="translate(820.70 1358.70) scale(1.0 0.97)" font-size="33" font-weight="bold" text-anchor="middle" stroke="#231f20" stroke-width="0.45" stroke-linejoin="round">+</text>
<text transform="translate(878.00 1359.70) scale(1.0 0.97)" font-size="33" font-weight="bold" text-anchor="middle" stroke="#231f20" stroke-width="0.45" stroke-linejoin="round">-</text>
<text transform="translate(933.80 1358.70) scale(1.0 0.97)" font-size="33" font-weight="bold" text-anchor="middle" stroke="#231f20" stroke-width="0.45" stroke-linejoin="round">+</text>
<line x1="723.10" y1="1377.20" x2="826.90" y2="1377.20" stroke="#231f20" stroke-width="2.1"/>
<line x1="850.60" y1="1377.20" x2="954.40" y2="1377.20" stroke="#231f20" stroke-width="2.1"/>
<text transform="translate(724.30 1420.50) scale(1.0 1.05)" font-size="33" font-weight="bold" text-anchor="start" stroke="#231f20" stroke-width="0.45" stroke-linejoin="round">Water</text>
<text transform="translate(835.60 1420.50) scale(1.0 1.05)" font-size="33" font-weight="bold" text-anchor="start" stroke="#231f20" stroke-width="0.45" stroke-linejoin="round" letter-spacing="-0.22">Pyrocatechol</text>
<line x1="1160.60" y1="1148.60" x2="1396.70" y2="1148.60" stroke="#999b9e" stroke-width="2.1"/>
<line x1="1160.60" y1="1230.70" x2="1396.70" y2="1230.70" stroke="#999b9e" stroke-width="2.1"/>
<line x1="1160.60" y1="1066.60" x2="1169.40" y2="1066.60" stroke="#999b9e" stroke-width="2.1"/>
<line x1="1160.60" y1="1312.60" x2="1169.40" y2="1312.60" stroke="#999b9e" stroke-width="2.1"/>
<line x1="1169.40" y1="1065.55" x2="1169.40" y2="1313.65" stroke="#999b9e" stroke-width="2.2"/>
<rect x="1184.60" y="1311.60" width="24.80" height="1.00" fill="#231f20"/>
<rect x="1241.80" y="1147.40" width="24.80" height="165.20" fill="#231f20"/>
<rect x="1298.40" y="1311.60" width="24.80" height="1.00" fill="#231f20"/>
<rect x="1355.70" y="1212.60" width="24.80" height="100.00" fill="#231f20"/>
<line x1="1254.20" y1="1113.00" x2="1254.20" y2="1147.40" stroke="#231f20" stroke-width="2.1"/>
<line x1="1247.90" y1="1113.00" x2="1260.50" y2="1113.00" stroke="#231f20" stroke-width="2.1"/>
<line x1="1368.00" y1="1188.00" x2="1368.00" y2="1212.60" stroke="#231f20" stroke-width="2.1"/>
<line x1="1361.70" y1="1188.00" x2="1374.30" y2="1188.00" stroke="#231f20" stroke-width="2.1"/>
<polyline points="1169.40,1066.60 1396.70,1066.60 1396.70,1312.60 1169.40,1312.60" fill="none" stroke="#231f20" stroke-width="2.3"/>
<text transform="translate(1145.30 1075.30) scale(1.0 1.03)" font-size="26.9" font-weight="bold" text-anchor="end" stroke="#231f20" stroke-width="0.45" stroke-linejoin="round">600</text>
<text transform="translate(1145.30 1157.30) scale(1.0 1.03)" font-size="26.9" font-weight="bold" text-anchor="end" stroke="#231f20" stroke-width="0.45" stroke-linejoin="round">400</text>
<text transform="translate(1145.30 1239.40) scale(1.0 1.03)" font-size="26.9" font-weight="bold" text-anchor="end" stroke="#231f20" stroke-width="0.45" stroke-linejoin="round">200</text>
<text transform="translate(1145.30 1321.30) scale(1.0 1.03)" font-size="26.9" font-weight="bold" text-anchor="end" stroke="#231f20" stroke-width="0.45" stroke-linejoin="round">0</text>
<text transform="translate(1368.55 1185.50) scale(1.0 0.97)" font-size="24" font-weight="normal" text-anchor="middle" letter-spacing="1.1" stroke="#231f20" stroke-width="0.6">*</text>
<text transform="translate(1044.00 1188.80) rotate(-90) scale(1.0 1.06)" font-size="32.7" font-weight="bold" text-anchor="middle" stroke="#231f20" stroke-width="0.45" stroke-linejoin="round">IL-6 mRNA</text>
<text transform="translate(1084.00 1191.00) rotate(-90)" font-size="32.7" font-weight="bold" text-anchor="middle" stroke="#231f20" stroke-width="0.45" stroke-linejoin="round">expression</text>
<text transform="translate(1081.50 1371.70) scale(1.0 1.05)" font-size="33" font-weight="bold" text-anchor="start" stroke="#231f20" stroke-width="0.45" stroke-linejoin="round">LPS</text>
<text transform="translate(1195.40 1358.90) scale(1.0 0.97)" font-size="33" font-weight="bold" text-anchor="middle" stroke="#231f20" stroke-width="0.45" stroke-linejoin="round">-</text>
<text transform="translate(1251.50 1357.90) scale(1.0 0.97)" font-size="33" font-weight="bold" text-anchor="middle" stroke="#231f20" stroke-width="0.45" stroke-linejoin="round">+</text>
<text transform="translate(1308.80 1358.90) scale(1.0 0.97)" font-size="33" font-weight="bold" text-anchor="middle" stroke="#231f20" stroke-width="0.45" stroke-linejoin="round">-</text>
<text transform="translate(1364.60 1357.90) scale(1.0 0.97)" font-size="33" font-weight="bold" text-anchor="middle" stroke="#231f20" stroke-width="0.45" stroke-linejoin="round">+</text>
<line x1="1153.90" y1="1376.40" x2="1257.70" y2="1376.40" stroke="#231f20" stroke-width="2.1"/>
<line x1="1281.40" y1="1376.40" x2="1385.20" y2="1376.40" stroke="#231f20" stroke-width="2.1"/>
<text transform="translate(1155.10 1419.70) scale(1.0 1.05)" font-size="33" font-weight="bold" text-anchor="start" stroke="#231f20" stroke-width="0.45" stroke-linejoin="round">Water</text>
<text transform="translate(1266.40 1419.70) scale(1.0 1.05)" font-size="33" font-weight="bold" text-anchor="start" stroke="#231f20" stroke-width="0.45" stroke-linejoin="round" letter-spacing="-0.22">Pyrocatechol</text>
<line x1="1597.60" y1="1148.70" x2="1826.80" y2="1148.70" stroke="#d4d5d6" stroke-width="1.8"/>
<line x1="1597.60" y1="1232.00" x2="1826.80" y2="1232.00" stroke="#d4d5d6" stroke-width="1.8"/>
<rect x="1614.90" y="1311.40" width="22.80" height="4.00" fill="#f2f2f2" stroke="#231f20" stroke-width="2.0"/>
<rect x="1670.70" y="1134.00" width="24.80" height="181.40" fill="#231f20"/>
<rect x="1729.10" y="1311.00" width="22.80" height="4.40" fill="#f2f2f2" stroke="#231f20" stroke-width="2.0"/>
<rect x="1785.30" y="1191.60" width="24.80" height="123.80" fill="#231f20"/>
<line x1="1683.00" y1="1102.00" x2="1683.00" y2="1167.00" stroke="#808285" stroke-width="2.3"/>
<line x1="1676.60" y1="1102.00" x2="1689.40" y2="1102.00" stroke="#808285" stroke-width="2.3"/>
<line x1="1676.60" y1="1167.00" x2="1689.40" y2="1167.00" stroke="#808285" stroke-width="2.3"/>
<line x1="1797.70" y1="1181.40" x2="1797.70" y2="1203.40" stroke="#808285" stroke-width="2.3"/>
<line x1="1791.30" y1="1181.40" x2="1804.10" y2="1181.40" stroke="#808285" stroke-width="2.3"/>
<line x1="1791.30" y1="1203.40" x2="1804.10" y2="1203.40" stroke="#808285" stroke-width="2.3"/>
<line x1="1626.30" y1="1310.00" x2="1626.30" y2="1311.20" stroke="#808285" stroke-width="2.3"/>
<line x1="1619.90" y1="1310.00" x2="1632.70" y2="1310.00" stroke="#808285" stroke-width="2.3"/>
<line x1="1619.90" y1="1311.20" x2="1632.70" y2="1311.20" stroke="#808285" stroke-width="2.3"/>
<line x1="1740.50" y1="1309.60" x2="1740.50" y2="1311.00" stroke="#808285" stroke-width="2.3"/>
<line x1="1734.10" y1="1309.60" x2="1746.90" y2="1309.60" stroke="#808285" stroke-width="2.3"/>
<line x1="1734.10" y1="1311.00" x2="1746.90" y2="1311.00" stroke="#808285" stroke-width="2.3"/>
<rect x="1597.60" y="1065.90" width="229.20" height="249.50" fill="none" stroke="#231f20" stroke-width="2.3"/>
<text transform="translate(1574.30 1074.60) scale(1.0 1.03)" font-size="26.9" font-weight="bold" text-anchor="end" stroke="#231f20" stroke-width="0.45" stroke-linejoin="round">60</text>
<text transform="translate(1574.30 1157.40) scale(1.0 1.03)" font-size="26.9" font-weight="bold" text-anchor="end" stroke="#231f20" stroke-width="0.45" stroke-linejoin="round">40</text>
<text transform="translate(1574.30 1240.70) scale(1.0 1.03)" font-size="26.9" font-weight="bold" text-anchor="end" stroke="#231f20" stroke-width="0.45" stroke-linejoin="round">20</text>
<text transform="translate(1574.30 1324.10) scale(1.0 1.03)" font-size="26.9" font-weight="bold" text-anchor="end" stroke="#231f20" stroke-width="0.45" stroke-linejoin="round">0</text>
<text transform="translate(1798.55 1177.30) scale(1.0 0.97)" font-size="24" font-weight="normal" text-anchor="middle" letter-spacing="1.1" stroke="#231f20" stroke-width="0.6">*</text>
<text transform="translate(1478.20 1189.00) rotate(-90) scale(1.0 1.06)" font-size="32.7" font-weight="bold" text-anchor="middle" stroke="#231f20" stroke-width="0.45" stroke-linejoin="round">TNF<tspan font-weight="normal" stroke-width="0.4" font-size="1.05em" dx="0.6">α</tspan> mRNA</text>
<text transform="translate(1518.20 1191.00) rotate(-90)" font-size="32.7" font-weight="bold" text-anchor="middle" stroke="#231f20" stroke-width="0.45" stroke-linejoin="round">expression</text>
<text transform="translate(1512.20 1375.30) scale(1.0 1.05)" font-size="33" font-weight="bold" text-anchor="start" stroke="#231f20" stroke-width="0.45" stroke-linejoin="round">LPS</text>
<text transform="translate(1626.10 1361.90) scale(1.0 0.97)" font-size="33" font-weight="bold" text-anchor="middle" stroke="#231f20" stroke-width="0.45" stroke-linejoin="round">-</text>
<text transform="translate(1682.20 1360.90) scale(1.0 0.97)" font-size="33" font-weight="bold" text-anchor="middle" stroke="#231f20" stroke-width="0.45" stroke-linejoin="round">+</text>
<text transform="translate(1739.50 1361.90) scale(1.0 0.97)" font-size="33" font-weight="bold" text-anchor="middle" stroke="#231f20" stroke-width="0.45" stroke-linejoin="round">-</text>
<text transform="translate(1795.30 1360.90) scale(1.0 0.97)" font-size="33" font-weight="bold" text-anchor="middle" stroke="#231f20" stroke-width="0.45" stroke-linejoin="round">+</text>
<line x1="1584.60" y1="1379.50" x2="1688.40" y2="1379.50" stroke="#231f20" stroke-width="2.1"/>
<line x1="1712.10" y1="1379.50" x2="1815.90" y2="1379.50" stroke="#231f20" stroke-width="2.1"/>
<text transform="translate(1585.80 1423.30) scale(1.0 1.05)" font-size="33" font-weight="bold" text-anchor="start" stroke="#231f20" stroke-width="0.45" stroke-linejoin="round">Water</text>
<text transform="translate(1697.50 1423.30) scale(1.0 1.05)" font-size="33" font-weight="bold" text-anchor="start" stroke="#231f20" stroke-width="0.45" stroke-linejoin="round" letter-spacing="-0.22">Pyrocatechol</text>
<text transform="translate(-1.70 31.40) scale(1.127 1.075)" font-size="42.7" font-weight="bold" text-anchor="start" stroke="#231f20" stroke-width="0.45" stroke-linejoin="round">A</text>
<text transform="translate(-0.20 523.70) scale(1.0 1.075)" font-size="42.7" font-weight="bold" text-anchor="start" stroke="#231f20" stroke-width="0.45" stroke-linejoin="round">B</text>
<text transform="translate(-0.90 1015.50) scale(1.0 1.075)" font-size="42.7" font-weight="bold" text-anchor="start" stroke="#231f20" stroke-width="0.45" stroke-linejoin="round">C</text>
<rect x="79.05" y="3.85" width="121.70" height="59.80" fill="#fff" stroke="#231f20" stroke-width="2.1"/>
<text transform="translate(99.40 45.70) scale(1.0 1.02)" font-size="33" font-weight="bold" text-anchor="start" stroke="#231f20" stroke-width="0.45" stroke-linejoin="round">Lung</text>
<rect x="91.05" y="491.75" width="118.80" height="59.80" fill="#fff" stroke="#231f20" stroke-width="2.1"/>
<text transform="translate(111.60 533.80) scale(1.0 1.02)" font-size="33" font-weight="bold" text-anchor="start" stroke="#231f20" stroke-width="0.45" stroke-linejoin="round">Liver</text>
<rect x="76.45" y="978.95" width="150.60" height="59.40" fill="#fff" stroke="#231f20" stroke-width="2.1"/>
<text transform="translate(97.60 1021.00) scale(1.0 1.02)" font-size="33" font-weight="bold" text-anchor="start" stroke="#231f20" stroke-width="0.45" stroke-linejoin="round">Kidney</text>
<text transform="translate(282.40 41.40)" font-size="27" font-weight="bold" text-anchor="start" stroke="#231f20" stroke-width="0.45" stroke-linejoin="round">*p&lt;0.05, **p&lt;0.01, ***p&lt;0.001</text>
<text transform="translate(299.60 533.40)" font-size="27" font-weight="bold" text-anchor="start" stroke="#231f20" stroke-width="0.45" stroke-linejoin="round">*p&lt;0.05, **p&lt;0.01</text>
<text transform="translate(299.60 1023.40)" font-size="27" font-weight="bold" text-anchor="start" stroke="#231f20" stroke-width="0.45" stroke-linejoin="round">*p&lt;0.05, **p&lt;0.01</text>
</svg>
</body>
</html>
